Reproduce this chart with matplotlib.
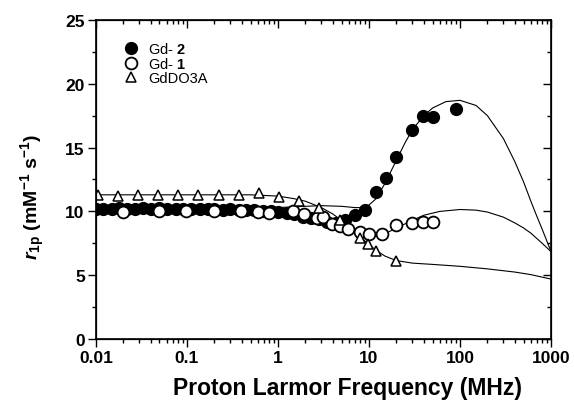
import numpy as np
import matplotlib
matplotlib.use('Agg')
import matplotlib.pyplot as plt
from matplotlib.ticker import MultipleLocator, LogLocator, NullFormatter, FixedLocator, FixedFormatter

plt.rcParams['font.family'] = ['Liberation Sans', 'DejaVu Sans']
plt.rcParams['mathtext.fontset'] = 'custom'
plt.rcParams['mathtext.rm'] = 'Liberation Sans'
plt.rcParams['mathtext.bf'] = 'Liberation Sans:bold'
plt.rcParams['mathtext.it'] = 'Liberation Sans:italic:bold'

# Gd-2 (filled circles)
gd2_f = [0.01, 0.012, 0.015, 0.018, 0.022, 0.027, 0.033, 0.04, 0.05, 0.06, 0.075, 0.09,
         0.11, 0.14, 0.17, 0.2, 0.25, 0.3, 0.37, 0.45, 0.55, 0.68, 0.83, 1.0, 1.25, 1.5,
         1.9, 2.3, 2.8, 3.5, 4.3, 5.5, 7.0, 9.0, 11.9, 15.4, 20, 30, 39.5, 50, 90]
gd2_r = [10.2, 10.2, 10.2, 10.25, 10.2, 10.2, 10.25, 10.2, 10.25, 10.2, 10.2, 10.2,
         10.2, 10.2, 10.2, 10.2, 10.15, 10.2, 10.1, 10.1, 10.1, 10.0, 10.0, 9.95, 9.85, 9.8,
         9.6, 9.5, 9.4, 9.2, 9.1, 9.3, 9.7, 10.1, 11.5, 12.6, 14.3, 16.35, 17.5, 17.4, 18.0]

# Gd-1 (open circles)
gd1_f = [0.02, 0.049, 0.099, 0.2, 0.39, 0.6, 0.79, 1.47, 1.95, 2.7, 3.1, 3.9, 4.8,
         5.9, 8.0, 10.1, 13.8, 20, 29.4, 39.5, 50]
gd1_r = [9.95, 10.0, 10.05, 10.0, 10.0, 9.95, 9.85, 10.0, 9.8, 9.5, 9.55, 9.05, 8.85,
         8.6, 8.4, 8.2, 8.25, 8.9, 9.1, 9.2, 9.15]

# GdDO3A (open triangles)
do3a_f = [0.0106, 0.0176, 0.029, 0.048, 0.08, 0.133, 0.226, 0.37, 0.62, 1.03, 1.7,
          2.85, 4.8, 7.9, 9.8, 11.9, 20]
do3a_r = [11.3, 11.2, 11.3, 11.3, 11.25, 11.3, 11.3, 11.3, 11.45, 11.15, 10.8,
          10.3, 9.35, 7.95, 7.45, 6.9, 6.15]

# fitted curves
fit2_f = [0.01, 0.1, 0.5, 1, 2, 3, 5, 7, 8.5, 10, 12, 15, 20, 25, 30, 40, 50, 70, 100,
          150, 200, 300, 400, 500, 600, 700, 800, 1000]
fit2_r = [10.2, 10.2, 10.25, 10.3, 10.4, 10.45, 10.4, 10.3, 10.3, 10.5, 11.0, 12.2, 14.0,
          15.4, 16.4, 17.5, 18.1, 18.6, 18.7, 18.3, 17.5, 15.7, 13.9, 12.3, 10.8, 9.6, 8.6, 6.85]

fit1_f = [0.01, 0.1, 0.5, 1, 2, 3, 5, 7, 10, 12, 15, 20, 30, 40, 60, 100, 150, 200, 300,
          400, 500, 600, 800, 1000]
fit1_r = [10.1, 10.1, 10.05, 10.0, 9.8, 9.55, 9.0, 8.55, 8.2, 8.15, 8.25, 8.7, 9.3, 9.7,
          10.0, 10.15, 10.1, 9.95, 9.55, 9.1, 8.7, 8.3, 7.5, 6.85]

fit3_f = [0.01, 0.1, 0.5, 1, 1.5, 2, 3, 4, 5, 6, 8, 10, 12, 15, 20, 30, 50, 100, 200,
          400, 600, 1000]
fit3_r = [11.3, 11.3, 11.3, 11.2, 11.0, 10.8, 10.3, 9.8, 9.3, 8.85, 8.0, 7.4, 6.95, 6.5,
          6.15, 5.95, 5.85, 5.7, 5.5, 5.25, 5.05, 4.7]

xticks = [0.01, 0.1, 1, 10, 100, 1000]
xticklabels = ['0.01', '0.1', '1', '10', '100', '1000']

fig = plt.figure(figsize=(5.74, 4.02), dpi=100)
ax = fig.add_axes([0.167, 0.154, 0.793, 0.794])

ax.plot(fit2_f, fit2_r, color='black', lw=0.8, zorder=2)
ax.plot(fit1_f, fit1_r, color='black', lw=0.8, zorder=2)
ax.plot(fit3_f, fit3_r, color='black', lw=0.8, zorder=2)

ax.plot(gd2_f, gd2_r, 'o', ms=8.5, mfc='black', mec='black', ls='none', zorder=3, label='Gd- $\\mathbf{2}$')
ax.plot(gd1_f, gd1_r, 'o', ms=8.5, mfc='white', mec='black', mew=1.3, ls='none', zorder=4, label='Gd- $\\mathbf{1}$')
ax.plot(do3a_f, do3a_r, '^', ms=6.5, mfc='white', mec='black', mew=1.1, ls='none', zorder=5, label='GdDO3A')

ax.set_xscale('log')
ax.set_xlim(0.01, 1000)
ax.set_ylim(0, 25)

ax.xaxis.set_major_locator(FixedLocator(xticks))
ax.xaxis.set_major_formatter(FixedFormatter(xticklabels))
ax.xaxis.set_minor_locator(LogLocator(base=10, subs=np.arange(2, 10)))
ax.xaxis.set_minor_formatter(NullFormatter())
ax.yaxis.set_major_locator(MultipleLocator(5))
ax.yaxis.set_minor_locator(MultipleLocator(2.5))

ax.tick_params(which='both', direction='out', width=1.0, labelsize=12.5)
ax.tick_params(which='major', length=6, pad=2)
ax.tick_params(which='minor', length=3)
for lab in ax.get_xticklabels() + ax.get_yticklabels():
    lab.set_fontweight('bold')
for sp in ax.spines.values():
    sp.set_linewidth(1.2)

# top and right ticks point inward
axt = ax.twiny()
axt.set_xscale('log')
axt.set_xlim(ax.get_xlim())
axt.xaxis.set_major_locator(FixedLocator(xticks))
axt.xaxis.set_minor_locator(LogLocator(base=10, subs=np.arange(2, 10)))
axt.tick_params(which='both', direction='in', labeltop=False, width=1.0)
axt.tick_params(which='major', length=6)
axt.tick_params(which='minor', length=3)
axr = ax.twinx()
axr.set_ylim(ax.get_ylim())
axr.yaxis.set_major_locator(MultipleLocator(5))
axr.yaxis.set_minor_locator(MultipleLocator(2.5))
axr.tick_params(which='both', direction='in', labelright=False, width=1.0)
axr.tick_params(which='major', length=6)
axr.tick_params(which='minor', length=3)

fig.text(0.605, 0.006, 'Proton Larmor Frequency (MHz)', fontsize=16.5, fontweight='bold', ha='center', va='bottom')
fig.text(0.058, 0.51, r'$\mathit{r}_{\mathbf{1p}}\ \mathbf{(mM^{-1}\ s^{-1})}$', fontsize=14,
         rotation=90, ha='center', va='center')

leg = ax.legend(loc='upper left', bbox_to_anchor=(0.035, 0.965), frameon=False, fontsize=10.5,
                handletextpad=0.6, labelspacing=0.0, handlelength=1.2, borderpad=0.2)

fig.savefig('out.png', dpi=100)
